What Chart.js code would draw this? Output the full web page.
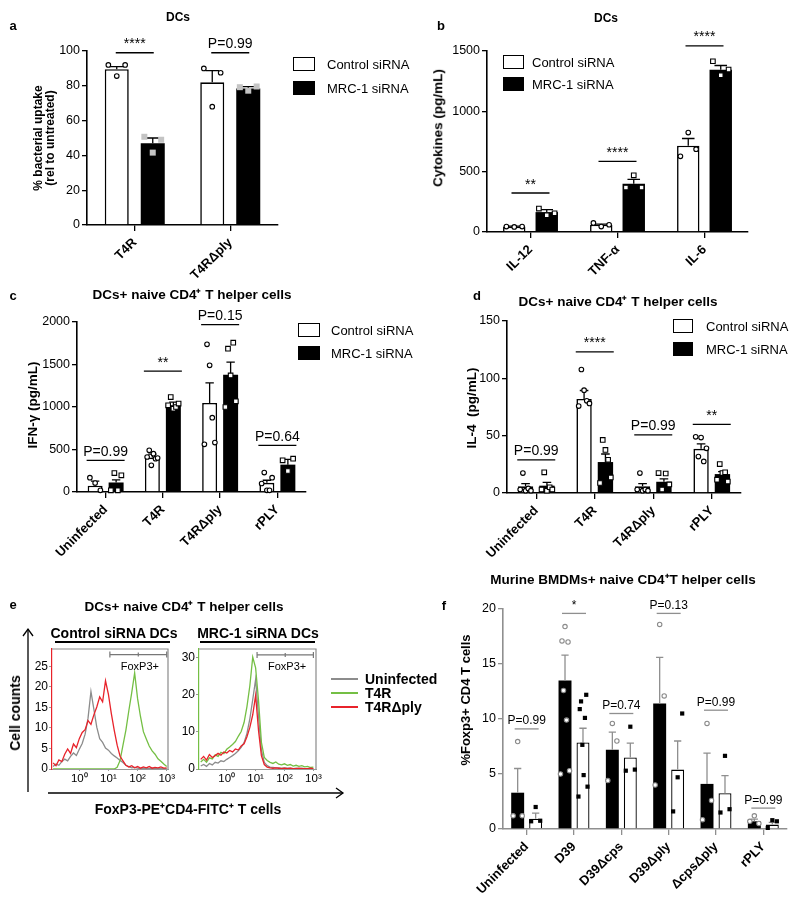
<!DOCTYPE html>
<html>
<head>
<meta charset="utf-8">
<script src="https://cdn.jsdelivr.net/npm/chart.js@4"></script>
<style>
body { margin: 0; background: #fff; }
#page { position: relative; width: 800px; height: 908px; overflow: hidden; background: #fff;
        font-family: 'Liberation Sans', Arial, sans-serif; color: #000; }
#page canvas { position: absolute; left: 0; top: 0; }
.t { position: absolute; white-space: nowrap; line-height: 1; }
.box { position: absolute; box-sizing: border-box; }
</style>
</head>
<body>
<div id="page"></div>
<script>
// ---- panel a : bacterial uptake
const aCats = ['T4R', 'T4RΔply'];
const aCtrl = [89.5, 82];
const aMrc = [47, 78.5];
const aCtrlErr = [1.5, 6.7];
const aMrcErr = [3, 1];
const aCtrlPts = [[92, 85.6, 92], [90, 68, 87.5]];
const aMrcPts = [[50.7, 41.6, 49], [79.2, 77.2, 79.6]];
const aSig = [{ i: 0, v: 99, t: '****' }, { i: 1, v: 99, t: 'P=0.99' }];

// ---- panel b : cytokines
const bCats = ['IL-12', 'TNF-α', 'IL-6'];
const bCtrl = [45, 60, 715];
const bMrc = [165, 400, 1345];
const bCtrlErr = [3, 6, 60];
const bMrcErr = [20, 36, 35];
const bCtrlPts = [[45, 42, 45], [75, 45, 60], [627, 824, 686]];
const bMrcPts = [[194, 139, 155], [368, 470, 368], [1415, 1299, 1346]];
const bSig = [{ i: 0, v: 323, t: '**' }, { i: 1, v: 586, t: '****' }, { i: 2, v: 1542, t: '****' }];

// ---- panel c : IFN-gamma
const cCats = ['Uninfected', 'T4R', 'T4RΔply', 'rPLY'];
const cCtrl = [75, 405, 1048, 108];
const cMrc = [112, 1020, 1378, 322];
const cCtrlErr = [52, 40, 235, 30];
const cMrcErr = [30, 38, 150, 62];
const cCtrlPts = [[169, 106, 20], [412, 490, 314, 451, 392, 400], [561, 1737, 1490, 875, 581], [100, 228, 20, 20, 169]];
const cMrcPts = [[20, 223, 20, 196], [1020, 1117, 980, 1000, 1040], [1000, 1686, 1372, 1757, 1067], [373, 247, 392]];
const cSig = [{ i: 0, v: 373, t: 'P=0.99' }, { i: 1, v: 1423, t: '**' }, { i: 2, v: 1968, t: 'P=0.15' }, { i: 3, v: 549, t: 'P=0.64' }];

// ---- panel d : IL-4
const dCats = ['Uninfected', 'T4R', 'T4RΔply', 'rPLY'];
const dCtrl = [5.8, 82, 5.8, 38.5];
const dMrc = [6.4, 27, 9.8, 16.5];
const dCtrlErr = [2.4, 7.4, 2.4, 4.3];
const dMrcErr = [2.9, 7, 2.5, 2.2];
const dCtrlPts = [[3, 17.4, 2, 4, 2], [75.8, 107.7, 89.7, 80.4, 78.1], [3, 17.4, 2, 3, 2], [49, 31.8, 48.3, 27.5, 39]];
const dMrcPts = [[3, 18, 2, 5, 3], [8.7, 46.3, 37.6, 28.9, 13.6], [17.4, 3, 17, 7.5], [11.6, 25.2, 17.4, 18, 10]];
const dSig = [{ i: 0, v: 28.9, t: 'P=0.99' }, { i: 1, v: 123, t: '****' }, { i: 2, v: 50.7, t: 'P=0.99' }, { i: 3, v: 59.9, t: '**' }];

// ---- panel e : FoxP3 histograms (x in log10 units)
const binLog = [-0.9, -0.8, -0.7, -0.6, -0.5, -0.4, -0.3, -0.2, -0.1, 0, 0.1, 0.2, 0.3, 0.4, 0.5, 0.6, 0.7, 0.8, 0.9, 1.0,
                1.1, 1.2, 1.3, 1.4, 1.5, 1.6, 1.7, 1.8, 1.9, 2.0, 2.1, 2.2, 2.3, 2.4, 2.5, 2.6, 2.7, 2.8, 2.9, 3.0];
const decTicks = [0, 1, 2, 3];
const ctrlGray = [0.6, 1.2, 0.9, 1.8, 2.4, 2.0, 3.1, 3.9, 3.3, 4.8, 6.2, 8.5, 12.4, 18.9, 14.6, 10.2, 7.4, 6.5, 5.1, 4.6,
                  3.8, 3.2, 2.7, 2.1, 1.6, 0.9, 0.6, 0.3, 0.4, 0.2, 0.1, 0.2, 0.1, 0.1, 0.2, 0.1, 0.1, 0.1, 0.1, 0.1];
const ctrlGreen = [0, 0, 0, 0, 0, 0, 0, 0, 0, 0, 0, 0, 0, 0, 0, 0, 0, 0, 0, 0,
                   0, 0, 0.4, 2.1, 5.8, 9.5, 14.2, 18.6, 23.4, 17.2, 12.8, 9.1, 7.3, 5.6, 4.4, 3.6, 2.5, 1.9, 1.2, 0.6];
const ctrlRed = [1.5, 0.8, 2.2, 1.8, 3.6, 4.9, 3.8, 6.1, 5.2, 7.4, 8.9, 9.6, 11.8, 10.9, 13.2, 15.1, 17.6, 16.4, 21.5, 18.2,
                 13.5, 9.4, 5.8, 3.1, 2.0, 0.9, 0.5, 0.8, 0.3, 0.6, 0.2, 0.5, 0.3, 0.6, 0.2, 0.4, 0.3, 0.5, 0.2, 0.3];
const mrcGray = [0.8, 1.2, 0.7, 1.5, 1.1, 1.8, 1.6, 2.2, 2.0, 2.6, 3.1, 3.6, 4.2, 4.9, 5.8, 7.1, 9.6, 13.5, 18.7, 24.1,
                 14.2, 5.1, 1.8, 0.9, 0.5, 0.4, 0.3, 0.3, 0.2, 0.3, 0.2, 0.2, 0.1, 0.2, 0.1, 0.2, 0.1, 0.1, 0.1, 0.1];
const mrcGreen = [1.9, 2.6, 1.8, 3.0, 2.7, 3.8, 3.4, 4.5, 4.1, 5.3, 5.9, 6.6, 7.4, 8.8, 10.1, 12.5, 16.8, 22.4, 30.1, 27.2,
                  18.5, 7.2, 3.1, 2.3, 1.8, 1.5, 1.9, 1.3, 1.1, 1.4, 1.0, 1.2, 0.8, 1.0, 0.7, 0.9, 0.6, 0.7, 0.4, 0.5];
const mrcRed = [2.6, 3.4, 2.4, 3.9, 3.1, 3.6, 4.2, 3.7, 4.6, 4.3, 5.0, 4.6, 5.4, 5.1, 6.2, 6.8, 8.7, 11.2, 14.6, 19.8,
                10.4, 3.6, 1.2, 0.5, 0.3, 0.2, 0.3, 0.2, 0.1, 0.2, 0.1, 0.2, 0.1, 0.1, 0.2, 0.1, 0.1, 0.1, 0.2, 0.1];

// ---- panel f : BMDM Foxp3+
const fCats = ['Uninfected', 'D39', 'D39Δcps', 'D39Δply', 'ΔcpsΔply', 'rPLY'];
const fBlack = [3.3, 13.5, 7.2, 11.4, 4.1, 0.7];
const fWhite = [0.94, 7.86, 6.5, 5.4, 3.25, 0.4];
const fBlackErr = [2.2, 2.3, 1.6, 4.2, 2.8, 0.2];
const fWhiteErr = [0.5, 1.3, 1.3, 2.6, 1.6, 0.2];
const fBlackPts = [[1.2, 7.95, 1.2], [5.0, 17.1, 12.6, 18.4, 9.9, 17.0, 5.3], [4.4, 9.6, 8.0], [4.0, 18.6, 12.1], [0.85, 9.6, 2.6], [0.7, 1.2, 0.5]];
const fWhitePts = [[0.7, 2.0, 0.75], [2.95, 10.9, 11.6, 7.65, 4.9, 10.1, 12.2, 3.85], [5.3, 9.3, 5.4], [1.6, 4.7, 10.5], [1.5, 6.65, 1.8], [0.1, 0.8, 0.7]];
const fSig = [{ i: 0, v: 9.1, t: 'P=0.99' }, { i: 1, v: 19.6, t: '*' }, { i: 2, v: 10.5, t: 'P=0.74' },
              { i: 3, v: 19.6, t: 'P=0.13' }, { i: 4, v: 10.8, t: 'P=0.99' }, { i: 5, v: 1.9, t: 'P=0.99' }];

Chart.defaults.font.family = "'Liberation Sans', Arial, sans-serif";
Chart.defaults.color = '#000';

const page = document.getElementById('page');
const sup = { 0: '⁰', 1: '¹', 2: '²', 3: '³' };

function text(str, x, y, size, o = {}) {
  const d = document.createElement('div');
  d.className = 't';
  d.innerHTML = str;
  d.style.fontSize = size + 'px';
  d.style.fontWeight = o.bold ? 'bold' : 'normal';
  d.style.left = x + 'px';
  d.style.top = y + 'px';
  if (o.lh) { d.style.lineHeight = o.lh + 'px'; d.style.textAlign = 'center'; }
  const tx = o.left ? '0' : '-50%';
  d.style.transform = 'translate(' + tx + ', -50%)' + (o.rot ? ' rotate(' + o.rot + 'deg)' : '');
  page.appendChild(d);
}

function box(x, y, w, h, css) {
  const d = document.createElement('div');
  d.className = 'box';
  Object.assign(d.style, { left: x + 'px', top: y + 'px', width: w + 'px', height: h + 'px' }, css);
  page.appendChild(d);
}

function addCanvas() {
  const c = document.createElement('canvas');
  c.width = 800; c.height = 908;
  page.appendChild(c);
  return c;
}

function dot(ctx, m, x, y) {
  ctx.beginPath();
  if (m.shape === 'square') ctx.rect(x - m.r, y - m.r, m.r * 2, m.r * 2);
  else ctx.arc(x, y, m.r, 0, Math.PI * 2);
  ctx.fillStyle = m.fill;
  ctx.fill();
  if (m.stroke) { ctx.strokeStyle = m.stroke; ctx.lineWidth = 1.1; ctx.stroke(); }
}

// error bars, replicate points and significance bars
function marks(p) {
  return {
    id: 'marks',
    afterDatasetsDraw(chart) {
      const ctx = chart.ctx, xs = chart.scales.x, ys = chart.scales.y;
      ctx.save();
      p.sets.forEach((s, di) => {
        chart.getDatasetMeta(di).data.forEach((bar, i) => {
          const top = ys.getPixelForValue(s.data[i] + s.err[i]);
          const half = bar.width * 0.28;
          ctx.strokeStyle = p.errColor;
          ctx.lineWidth = 1.3;
          ctx.beginPath();
          ctx.moveTo(bar.x, bar.y); ctx.lineTo(bar.x, top);
          ctx.moveTo(bar.x - half, top); ctx.lineTo(bar.x + half, top);
          ctx.stroke();
          const pts = s.pts[i], n = pts.length;
          pts.forEach((v, k) => {
            const px = bar.x + (n > 1 ? (k / (n - 1) - 0.5) * bar.width * 0.7 : 0);
            dot(ctx, s.mark, px, ys.getPixelForValue(v));
          });
        });
      });
      ctx.font = p.sigFont + "px 'Liberation Sans', Arial, sans-serif";
      ctx.textAlign = 'center';
      ctx.textBaseline = 'alphabetic';
      p.sig.forEach(g => {
        const cx = xs.getPixelForTick(g.i), yy = ys.getPixelForValue(g.v);
        ctx.strokeStyle = p.sigColor;
        ctx.lineWidth = 1.3;
        ctx.beginPath();
        ctx.moveTo(cx - p.sigHalf, yy); ctx.lineTo(cx + p.sigHalf, yy);
        ctx.stroke();
        ctx.fillStyle = '#000';
        ctx.fillText(g.t, cx, yy - 4.5);
      });
      ctx.restore();
    }
  };
}

function barPanel(p) {
  const yW = 50, xH = 80;
  const ax = p.axisColor || '#000';
  new Chart(addCanvas(), {
    type: 'bar',
    data: {
      labels: p.cats,
      datasets: p.sets.map(s => ({
        data: s.data,
        backgroundColor: s.fill,
        borderColor: '#000',
        borderWidth: s.bw,
        categoryPercentage: p.cp,
        barPercentage: p.bp
      }))
    },
    options: {
      responsive: false,
      animation: false,
      layout: { padding: { left: p.l - yW, top: p.t, right: 800 - p.r, bottom: 908 - p.b - xH } },
      plugins: { legend: { display: false }, tooltip: { enabled: false } },
      scales: {
        x: {
          afterFit: s => { s.height = xH; },
          grid: { drawOnChartArea: false, offset: false, tickLength: 6, color: ax, lineWidth: 1.3 },
          border: { color: ax, width: 1.6, dash: p.xDash || [] },
          ticks: { font: { size: 13, weight: 'bold' }, minRotation: 45, maxRotation: 45, autoSkip: false, padding: 4 }
        },
        y: {
          min: 0, max: p.yMax,
          afterFit: s => { s.width = yW; },
          grid: { drawOnChartArea: false, tickLength: 5, color: ax, lineWidth: 1.3 },
          border: { color: ax, width: 1.6 },
          ticks: { stepSize: p.yStep, font: { size: 12.5 }, padding: 2, callback: v => String(v) }
        }
      }
    },
    plugins: [marks(p)]
  });
}

const openCircle = { shape: 'circle', r: 2.3, fill: '#fff', stroke: '#000' };
const whiteSquare = { shape: 'square', r: 2.3, fill: '#fff', stroke: '#000' };
const graySquare = { shape: 'square', r: 3, fill: '#c4c4c4' };
const fCircle = { shape: 'circle', r: 2.2, fill: '#fff', stroke: '#8a8a8a' };
const fSquare = { shape: 'square', r: 2.1, fill: '#000' };

barPanel({
  l: 87, t: 51, r: 278, b: 225, yMax: 100, yStep: 20, cp: 0.754, bp: 0.667, cats: aCats,
  sets: [
    { data: aCtrl, err: aCtrlErr, pts: aCtrlPts, fill: '#fff', bw: 1.6, mark: openCircle },
    { data: aMrc, err: aMrcErr, pts: aMrcPts, fill: '#000', bw: 0, mark: graySquare }
  ],
  sig: aSig, sigHalf: 19, sigFont: 14, sigColor: '#000', errColor: '#000'
});

barPanel({
  l: 487, t: 51, r: 748, b: 232, yMax: 1500, yStep: 500, cp: 0.747, bp: 0.69, cats: bCats,
  sets: [
    { data: bCtrl, err: bCtrlErr, pts: bCtrlPts, fill: '#fff', bw: 1.6, mark: openCircle },
    { data: bMrc, err: bMrcErr, pts: bMrcPts, fill: '#000', bw: 0, mark: whiteSquare }
  ],
  sig: bSig, sigHalf: 19, sigFont: 14, sigColor: '#000', errColor: '#000'
});

barPanel({
  l: 77, t: 322, r: 306, b: 492, yMax: 2000, yStep: 500, cp: 0.733, bp: 0.714, cats: cCats,
  sets: [
    { data: cCtrl, err: cCtrlErr, pts: cCtrlPts, fill: '#fff', bw: 1.6, mark: openCircle },
    { data: cMrc, err: cMrcErr, pts: cMrcPts, fill: '#000', bw: 0, mark: whiteSquare }
  ],
  sig: cSig, sigHalf: 19, sigFont: 14, sigColor: '#000', errColor: '#000'
});

barPanel({
  l: 507, t: 321, r: 741, b: 493, yMax: 150, yStep: 50, cp: 0.73, bp: 0.72, cats: dCats,
  sets: [
    { data: dCtrl, err: dCtrlErr, pts: dCtrlPts, fill: '#fff', bw: 1.6, mark: openCircle },
    { data: dMrc, err: dMrcErr, pts: dMrcPts, fill: '#000', bw: 0, mark: whiteSquare }
  ],
  sig: dSig, sigHalf: 19, sigFont: 14, sigColor: '#000', errColor: '#000'
});

barPanel({
  l: 503, t: 609, r: 787, b: 829, yMax: 20, yStep: 5, cp: 0.76, bp: 0.72, cats: fCats,
  axisColor: '#8f8f8f', xDash: [2, 2],
  sets: [
    { data: fBlack, err: fBlackErr, pts: fBlackPts, fill: '#000', bw: 0, mark: fCircle },
    { data: fWhite, err: fWhiteErr, pts: fWhitePts, fill: '#fff', bw: 1.3, mark: fSquare }
  ],
  sig: fSig, sigHalf: 12, sigFont: 12, sigColor: '#8f8f8f', errColor: '#8f8f8f'
});

// flow histogram frame + FoxP3+ gate
function frame(p) {
  return {
    id: 'frame',
    afterDraw(chart) {
      const ctx = chart.ctx, a = chart.chartArea, xs = chart.scales.x, ys = chart.scales.y;
      ctx.save();
      ctx.strokeStyle = '#8a8a8a';
      ctx.lineWidth = 1.2;
      ctx.beginPath();
      ctx.moveTo(a.left, a.top); ctx.lineTo(a.right, a.top); ctx.lineTo(a.right, a.bottom);
      ctx.stroke();
      const g = p.gate, gy = ys.getPixelForValue(g.y);
      const x1 = xs.getPixelForValue(g.from), x2 = xs.getPixelForValue(g.to);
      ctx.strokeStyle = '#777';
      ctx.beginPath();
      ctx.moveTo(x1, gy); ctx.lineTo(x2, gy);
      ctx.moveTo(x1, gy - 3); ctx.lineTo(x1, gy + 3);
      ctx.moveTo(x2, gy - 3); ctx.lineTo(x2, gy + 3);
      ctx.moveTo((x1 + x2) / 2, gy - 2); ctx.lineTo((x1 + x2) / 2, gy + 2);
      ctx.stroke();
      ctx.fillStyle = '#000';
      ctx.font = "11px 'Liberation Sans', Arial, sans-serif";
      ctx.textAlign = 'center';
      ctx.textBaseline = 'middle';
      ctx.fillText('FoxP3+', xs.getPixelForValue(g.lx), ys.getPixelForValue(g.ly));
      ctx.restore();
    }
  };
}

function histPanel(p) {
  const yW = 30, xH = 20;
  new Chart(addCanvas(), {
    type: 'line',
    data: {
      datasets: p.sets.map(s => ({
        data: binLog.map((x, i) => ({ x: x, y: s.vals[i] })),
        borderColor: s.color, borderWidth: 1.3, pointRadius: 0, tension: 0, fill: false
      }))
    },
    options: {
      responsive: false,
      animation: false,
      layout: { padding: { left: p.l - yW, top: p.t, right: 800 - p.r, bottom: 908 - p.b - xH } },
      plugins: { legend: { display: false }, tooltip: { enabled: false } },
      scales: {
        x: {
          type: 'linear', min: p.xMin, max: p.xMax,
          afterFit: s => { s.height = xH; },
          afterBuildTicks: s => { s.ticks = decTicks.map(v => ({ value: v })); },
          ticks: { callback: v => '10' + sup[v], font: { size: 11.5 }, padding: 1, autoSkip: false },
          grid: { drawOnChartArea: false, tickLength: 2, color: '#999' },
          border: { color: '#999', width: 1 }
        },
        y: {
          min: 0, max: p.yMax,
          afterFit: s => { s.width = yW; },
          ticks: { stepSize: p.yStep, includeBounds: false, font: { size: 12 }, padding: 1 },
          grid: { drawOnChartArea: false, tickLength: 3, color: '#999' },
          border: { color: p.edge, width: 1.2, dash: [1, 2] }
        }
      }
    },
    plugins: [frame(p)]
  });
}

const gray = '#8c8c8c', green = '#74bf44', red = '#e8232b';

histPanel({
  l: 52, t: 649, r: 168, b: 769, xMin: -0.937, xMax: 3.045, yMax: 29.25, yStep: 5, edge: red,
  sets: [{ vals: ctrlRed, color: red }, { vals: ctrlGreen, color: green }, { vals: ctrlGray, color: gray }],
  gate: { from: 1.05, to: 3.0, y: 27.9, lx: 2.08, ly: 24.9 }
});

histPanel({
  l: 199, t: 649, r: 316, b: 769, xMin: -0.96, xMax: 3.09, yMax: 32.3, yStep: 10, edge: green,
  sets: [{ vals: mrcRed, color: red }, { vals: mrcGreen, color: green }, { vals: mrcGray, color: gray }],
  gate: { from: 1.05, to: 3.0, y: 30.7, lx: 2.09, ly: 27.5 }
});

// ---- text, legends, arrows
text('a', 13, 25, 13, { bold: true });
text('b', 441, 25, 13, { bold: true });
text('c', 13, 295, 13, { bold: true });
text('d', 477, 295, 13, { bold: true });
text('e', 13, 604, 13, { bold: true });
text('f', 444, 605, 13, { bold: true });

text('DCs', 178, 17, 12, { bold: true });
text('DCs', 606, 18, 12, { bold: true });
text('DCs+ naive CD4⁺ T helper cells', 192, 295, 13.5, { bold: true });
text('DCs+ naive CD4⁺ T helper cells', 618, 302, 13.5, { bold: true });
text('DCs+ naive CD4⁺ T helper cells', 184, 607, 13.5, { bold: true });
text('Murine BMDMs+ naive CD4⁺T helper cells', 623, 580, 13.5, { bold: true });

text('% bacterial uptake<br>(rel to untreated)', 44, 138, 12, { bold: true, rot: -90, lh: 12 });
text('Cytokines (pg/mL)', 438, 128, 13.5, { bold: true, rot: -90 });
text('IFN-γ (pg/mL)', 33, 405, 13.5, { bold: true, rot: -90 });
text('IL-4&nbsp;&nbsp;(pg/mL)', 472, 408, 13.5, { bold: true, rot: -90 });
text('%Foxp3+ CD4 T cells', 465, 700, 13, { bold: true, rot: -90 });
text('Cell counts', 15, 713, 14, { bold: true, rot: -90 });
text('FoxP3-PE⁺CD4-FITC⁺ T cells', 188, 809, 14, { bold: true });

const legends = [
  { x: 293, y1: 57, y2: 81, w: 22, h: 14, tx: 327 },
  { x: 503, y1: 55, y2: 77, w: 21, h: 14, tx: 532 },
  { x: 298, y1: 323, y2: 346, w: 22, h: 14, tx: 331 },
  { x: 673, y1: 319, y2: 342, w: 20, h: 14, tx: 706 }
];
legends.forEach(g => {
  box(g.x, g.y1, g.w, g.h, { border: '1.6px solid #000', background: '#fff' });
  box(g.x, g.y2, g.w, g.h, { background: '#000' });
  text('Control siRNA', g.tx, g.y1 + g.h / 2, 13, { left: true });
  text('MRC-1 siRNA', g.tx, g.y2 + g.h / 2, 13, { left: true });
});

text('Control siRNA DCs', 114, 633, 14, { bold: true });
text('MRC-1 siRNA DCs', 258, 633, 14, { bold: true });
box(55, 641, 115, 1.6, { background: '#000' });
box(200, 641, 115, 1.6, { background: '#000' });

[['Uninfected', gray, 679], ['T4R', green, 693], ['T4RΔply', red, 707]].forEach(l => {
  box(331, l[2] - 0.75, 27, 1.6, { background: l[1] });
  text(l[0], 365, l[2], 14, { bold: true, left: true });
});

const svg = document.createElementNS('http://www.w3.org/2000/svg', 'svg');
svg.setAttribute('width', 800);
svg.setAttribute('height', 908);
svg.style.position = 'absolute';
svg.style.left = '0';
svg.style.top = '0';
svg.innerHTML =
  '<g fill="none" stroke="#000" stroke-width="1.3">' +
  '<line x1="28" y1="792" x2="28" y2="629"/><polyline points="23,636 28,629 33,636"/>' +
  '<line x1="48" y1="793" x2="343" y2="793"/><polyline points="336,788 343,793 336,798"/>' +
  '</g>';
page.appendChild(svg);
</script>
</body>
</html>
